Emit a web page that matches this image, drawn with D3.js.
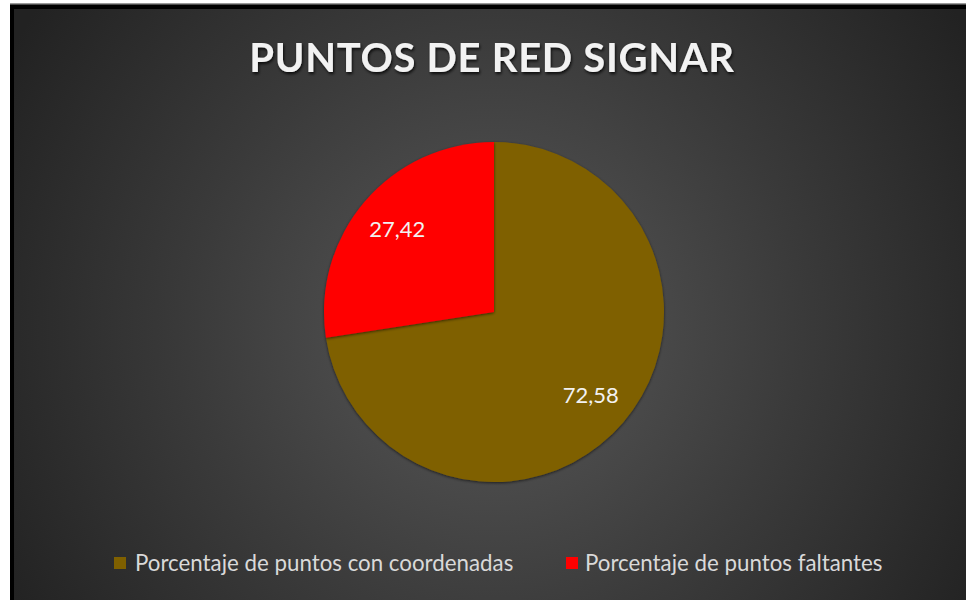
<!DOCTYPE html>
<html><head><meta charset="utf-8">
<script src="https://cdn.jsdelivr.net/npm/d3@7"></script>
<style>html,body{margin:0;padding:0;background:#fff;overflow:hidden}</style>
</head><body>
<svg id="c" width="966" height="600"></svg>
<script>
const categories = ["Porcentaje de puntos con coordenadas", "Porcentaje de puntos faltantes"];
const values = [72.58, 27.42];
const labels = ["72,58", "27,42"];
const colors = ["#7f6000", "#ff0000"];
const title = "PUNTOS DE RED SIGNAR";

const svg = d3.select("#c");
const defs = svg.append("defs");
const rg = defs.append("radialGradient").attr("id","bg")
  .attr("gradientUnits","userSpaceOnUse").attr("cx",495).attr("cy",330).attr("r",560);
rg.append("stop").attr("offset","0").attr("stop-color","#595959");
rg.append("stop").attr("offset","0.55").attr("stop-color","#3a3a3a");
rg.append("stop").attr("offset","1").attr("stop-color","#222222");
const f = defs.append("filter").attr("id","ts").attr("x","-10%").attr("y","-30%").attr("width","120%").attr("height","160%");
f.append("feDropShadow").attr("dx",1).attr("dy",2).attr("stdDeviation",1.5).attr("flood-color","#000").attr("flood-opacity",0.8);
const f2 = defs.append("filter").attr("id","ps").attr("x","-10%").attr("y","-10%").attr("width","120%").attr("height","120%");
f2.append("feDropShadow").attr("dx",0).attr("dy",1).attr("stdDeviation",1.5).attr("flood-color","#000").attr("flood-opacity",0.6);

svg.append("rect").attr("x",10).attr("y",4).attr("width",956).attr("height",596).attr("fill","#000");
svg.append("rect").attr("x",10).attr("y",3).attr("width",956).attr("height",1.5).attr("fill","#9a9a9a");
svg.append("rect").attr("x",14).attr("y",9).attr("width",952).attr("height",591).attr("fill","url(#bg)");

svg.append("text").attr("x",492).attr("y",72).attr("text-anchor","middle")
  .attr("font-family","Lato, 'Open Sans', sans-serif").attr("font-weight","bold")
  .attr("font-size",40).attr("letter-spacing",0.7).attr("fill","#f2f2f2")
  .attr("filter","url(#ts)").text(title);

const cx = 494, cy = 312, R = 170;
const pie = d3.pie().sort(null).value(d => d)(values);
const arc = d3.arc().innerRadius(0).outerRadius(R);
const g = svg.append("g").attr("transform",`translate(${cx},${cy})`);
g.selectAll("path").data(pie).join("path")
  .attr("d",arc).attr("fill",(d,i)=>colors[i]).attr("filter","url(#ps)");
const larc = d3.arc().innerRadius(R*0.75).outerRadius(R*0.75);
g.selectAll("text").data(pie).join("text")
  .attr("transform",d=>`translate(${larc.centroid(d)})`)
  .attr("text-anchor","middle").attr("dy","0.35em")
  .attr("font-family","Lato, 'Open Sans', sans-serif").attr("font-size",22)
  .attr("fill","#f2f2f2").text((d,i)=>labels[i]);

const leg = [{x:114, tx:135}, {x:566, tx:585}];
const lg = svg.append("g");
categories.forEach((c,i)=>{
  lg.append("rect").attr("x",leg[i].x).attr("y",557).attr("width",12).attr("height",12).attr("fill",colors[i]);
  lg.append("text").attr("x",leg[i].tx).attr("y",571)
    .attr("font-family","Lato, 'Open Sans', sans-serif").attr("font-size",22.3)
    .attr("fill","#d9d9d9").text(c);
});
</script>
</body></html>
